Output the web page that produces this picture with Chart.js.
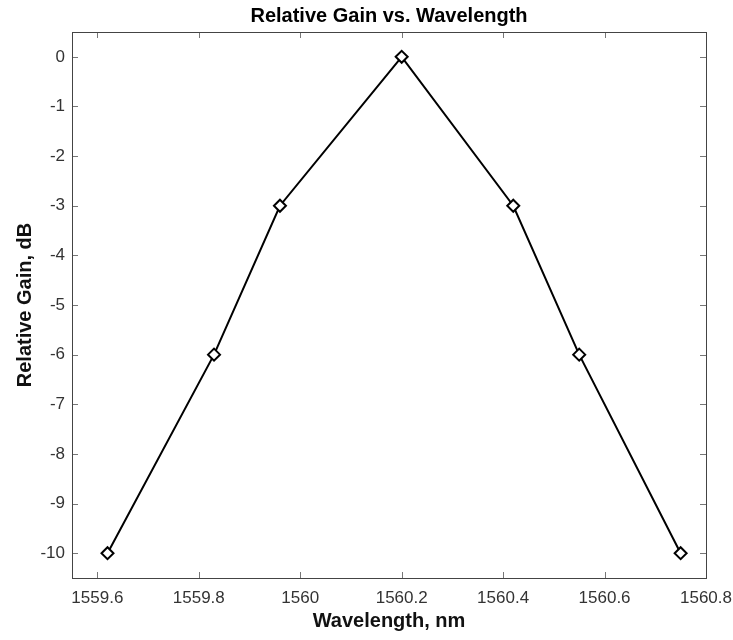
<!DOCTYPE html>
<html>
<head>
<meta charset="utf-8">
<script src="https://cdn.jsdelivr.net/npm/chart.js@4.4.1/dist/chart.umd.min.js"></script>
<style>
  html, body { margin: 0; padding: 0; background: #fff; }
  #wrap { width: 733px; height: 640px; }
</style>
</head>
<body>
<div id="wrap"><canvas id="chart" width="733" height="640"></canvas></div>
<script>
// valeurs
const wavelength = [1559.62, 1559.83, 1559.96, 1560.2, 1560.42, 1560.55, 1560.75];
const gainDb = [-10, -6, -3, 0, -3, -6, -10];
const xTicks = [1559.6, 1559.8, 1560, 1560.2, 1560.4, 1560.6, 1560.8];
const yTicks = [0, -1, -2, -3, -4, -5, -6, -7, -8, -9, -10];

const points = wavelength.map((w, i) => ({ x: w, y: gainDb[i] }));

// cadre + graduations vers l'intérieur (style matlab)
const boxTicks = {
    id: 'boxTicks',
    afterDatasetsDraw(chart) {
        const { ctx, chartArea: a, scales } = chart;
        ctx.save();
        ctx.strokeStyle = '#777';
        ctx.lineWidth = 1;
        const len = 6;
        ctx.beginPath();
        xTicks.forEach(t => {
            const px = Math.round(scales.x.getPixelForValue(t)) + 0.5;
            ctx.moveTo(px, a.bottom); ctx.lineTo(px, a.bottom - len);
            ctx.moveTo(px, a.top); ctx.lineTo(px, a.top + len);
        });
        yTicks.forEach(t => {
            const py = Math.round(scales.y.getPixelForValue(t)) + 0.5;
            ctx.moveTo(a.left, py); ctx.lineTo(a.left + len, py);
            ctx.moveTo(a.right, py); ctx.lineTo(a.right - len, py);
        });
        ctx.stroke();
        ctx.strokeStyle = '#444';
        ctx.strokeRect(Math.round(a.left) + 0.5, Math.round(a.top) + 0.5,
            Math.round(a.right - a.left), Math.round(a.bottom - a.top));
        ctx.restore();
    }
};

Chart.defaults.font.family = '"Liberation Sans", Arial, sans-serif';
Chart.defaults.color = '#333';

new Chart(document.getElementById('chart'), {
    type: 'scatter',
    data: {
        datasets: [{
            label: 'Relative Gain',
            data: points,
            showLine: true,
            borderColor: '#000',
            borderWidth: 2,
            tension: 0,
            pointStyle: 'rectRot',
            pointRadius: 6,
            pointBorderWidth: 2,
            pointBackgroundColor: '#fff',
            pointBorderColor: '#000'
        }]
    },
    options: {
        responsive: false,
        animation: false,
        layout: { padding: { left: 0, right: 27, top: 0, bottom: 0 } },
        plugins: {
            legend: { display: false },
            tooltip: { enabled: false },
            title: {
                display: true,
                fullSize: false, // centré sur la zone du graphe
                text: 'Relative Gain vs. Wavelength',
                color: '#000',
                font: { size: 20, weight: 'bold' },
                padding: { top: 4, bottom: 4 }
            }
        },
        scales: {
            x: {
                type: 'linear',
                min: 1559.55,
                max: 1560.8,
                afterBuildTicks: s => { s.ticks = xTicks.map(v => ({ value: v })); },
                afterFit: s => { s.height = 62; s.paddingLeft = 0; s.paddingRight = 0; },
                grid: { display: false, drawTicks: false, tickLength: 0 },
                border: { display: false },
                ticks: {
                    font: { size: 17 },
                    padding: 10,
                    maxRotation: 0,
                    callback: v => String(Number(v.toFixed(1)))
                },
                title: {
                    display: true,
                    text: 'Wavelength, nm',
                    color: '#111',
                    font: { size: 20, weight: 'bold' },
                    padding: { top: 0, bottom: 7 }
                }
            },
            y: {
                min: -10.5,
                max: 0.5,
                afterBuildTicks: s => { s.ticks = yTicks.map(v => ({ value: v })); },
                afterFit: s => { s.width = 72; },
                grid: { display: false, drawTicks: false, tickLength: 0 },
                border: { display: false },
                ticks: {
                    font: { size: 17 },
                    padding: 7
                },
                title: {
                    display: true,
                    text: 'Relative Gain, dB',
                    color: '#111',
                    font: { size: 20, weight: 'bold' },
                    padding: { top: 13, bottom: 0 }
                }
            }
        }
    },
    plugins: [boxTicks]
});
</script>
</body>
</html>
